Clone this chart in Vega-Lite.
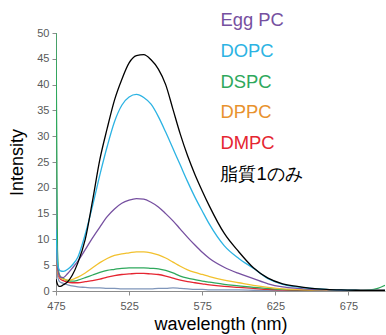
{
  "$schema": "https://vega.github.io/schema/vega-lite/v6.json",
  "width": 329,
  "height": 258,
  "autosize": {"type": "none"},
  "padding": {"left": 56, "top": 33, "right": 1, "bottom": 44},
  "background": "white",
  "config": {
    "view": {"stroke": null},
    "font": "Liberation Sans",
    "axis": {"grid": false, "labelFlush": false, "domainColor": "#8c8c8c", "tickColor": "#8c8c8c", "labelColor": "#595959", "labelFontSize": 11, "tickSize": 4, "titleFontWeight": "normal", "titleColor": "#000000", "titleFontSize": 18}
  },
  "data": {
    "values": [
      {"x": 475, "Egg PC": 12, "DOPC": 12, "DSPC": 50, "DPPC": 12, "DMPC": 12, "脂質1のみ": 2.3, "base": 20},
      {"x": 476, "Egg PC": 4.5, "DOPC": 5.5, "DSPC": 8, "DPPC": 4.0, "DMPC": 4.0, "脂質1のみ": 1.3, "base": 3.0},
      {"x": 477, "Egg PC": 3.2, "DOPC": 4.2, "DSPC": 3.5, "DPPC": 3.0, "DMPC": 2.8, "脂質1のみ": 0.9, "base": 2.0},
      {"x": 478, "Egg PC": 2.7, "DOPC": 3.9, "DSPC": 2.8, "DPPC": 2.6, "DMPC": 2.3, "脂質1のみ": 0.9, "base": 1.7},
      {"x": 480, "Egg PC": 2.6, "DOPC": 3.8, "DSPC": 2.4, "DPPC": 2.3, "DMPC": 2.0, "脂質1のみ": 1.2, "base": 1.5},
      {"x": 483, "Egg PC": 3.4, "DOPC": 4.2, "DSPC": 2.0, "DPPC": 2.1, "DMPC": 1.7, "脂質1のみ": 1.8, "base": 1.2},
      {"x": 486, "Egg PC": 4.4, "DOPC": 5.0, "DSPC": 1.9, "DPPC": 2.2, "DMPC": 1.6, "脂質1のみ": 3.0, "base": 1.0},
      {"x": 490, "Egg PC": 5.8, "DOPC": 6.6, "DSPC": 2.1, "DPPC": 2.7, "DMPC": 1.6, "脂質1のみ": 5.5, "base": 0.8},
      {"x": 495, "Egg PC": 8.0, "DOPC": 11, "DSPC": 2.6, "DPPC": 3.5, "DMPC": 1.8, "脂質1のみ": 10, "base": 0.7},
      {"x": 500, "Egg PC": 10.3, "DOPC": 16.5, "DSPC": 3.1, "DPPC": 4.5, "DMPC": 2.0, "脂質1のみ": 17.5, "base": 0.6},
      {"x": 505, "Egg PC": 12.4, "DOPC": 22.5, "DSPC": 3.6, "DPPC": 5.5, "DMPC": 2.3, "脂質1のみ": 25.5, "base": 0.6},
      {"x": 510, "Egg PC": 14.4, "DOPC": 28, "DSPC": 4.0, "DPPC": 6.3, "DMPC": 2.7, "脂質1のみ": 31.5, "base": 0.5},
      {"x": 515, "Egg PC": 15.9, "DOPC": 32.8, "DSPC": 4.2, "DPPC": 6.9, "DMPC": 3.0, "脂質1のみ": 37, "base": 0.5},
      {"x": 520, "Egg PC": 17.0, "DOPC": 36, "DSPC": 4.4, "DPPC": 7.2, "DMPC": 3.2, "脂質1のみ": 41, "base": 0.4},
      {"x": 525, "Egg PC": 17.6, "DOPC": 37.6, "DSPC": 4.5, "DPPC": 7.4, "DMPC": 3.3, "脂質1のみ": 44.2, "base": 0.4},
      {"x": 530, "Egg PC": 17.9, "DOPC": 38.1, "DSPC": 4.5, "DPPC": 7.6, "DMPC": 3.4, "脂質1のみ": 45.6, "base": 0.4},
      {"x": 535, "Egg PC": 17.8, "DOPC": 37.5, "DSPC": 4.5, "DPPC": 7.6, "DMPC": 3.4, "脂質1のみ": 45.8, "base": 0.4},
      {"x": 540, "Egg PC": 17.2, "DOPC": 36.2, "DSPC": 4.4, "DPPC": 7.4, "DMPC": 3.3, "脂質1のみ": 44.8, "base": 0.4},
      {"x": 545, "Egg PC": 16.3, "DOPC": 33.8, "DSPC": 4.3, "DPPC": 7.0, "DMPC": 3.2, "脂質1のみ": 43, "base": 0.5},
      {"x": 550, "Egg PC": 15.0, "DOPC": 30.8, "DSPC": 4.0, "DPPC": 6.4, "DMPC": 2.9, "脂質1のみ": 40, "base": 0.5},
      {"x": 555, "Egg PC": 13.6, "DOPC": 27.6, "DSPC": 3.5, "DPPC": 5.6, "DMPC": 2.5, "脂質1のみ": 35.2, "base": 0.6},
      {"x": 560, "Egg PC": 12.0, "DOPC": 24.4, "DSPC": 2.9, "DPPC": 4.8, "DMPC": 2.1, "脂質1のみ": 30.4, "base": 0.5},
      {"x": 565, "Egg PC": 10.4, "DOPC": 21.2, "DSPC": 2.5, "DPPC": 4.1, "DMPC": 1.8, "脂質1のみ": 26.2, "base": 0.4},
      {"x": 570, "Egg PC": 8.9, "DOPC": 18.2, "DSPC": 2.2, "DPPC": 3.6, "DMPC": 1.6, "脂質1のみ": 22.6, "base": 0.3},
      {"x": 575, "Egg PC": 7.5, "DOPC": 15.5, "DSPC": 1.9, "DPPC": 3.2, "DMPC": 1.4, "脂質1のみ": 19.4, "base": 0.3},
      {"x": 580, "Egg PC": 6.3, "DOPC": 12.9, "DSPC": 1.7, "DPPC": 2.8, "DMPC": 1.2, "脂質1のみ": 16.4, "base": 0.2},
      {"x": 590, "Egg PC": 4.6, "DOPC": 8.8, "DSPC": 1.3, "DPPC": 2.1, "DMPC": 0.9, "脂質1のみ": 11.2, "base": 0.2},
      {"x": 600, "Egg PC": 3.4, "DOPC": 6.3, "DSPC": 1.0, "DPPC": 1.6, "DMPC": 0.7, "脂質1のみ": 7.6, "base": 0.2},
      {"x": 610, "Egg PC": 2.4, "DOPC": 4.4, "DSPC": 0.7, "DPPC": 1.1, "DMPC": 0.5, "脂質1のみ": 4.5, "base": 0.15},
      {"x": 620, "Egg PC": 1.4, "DOPC": 2.4, "DSPC": 0.5, "DPPC": 0.7, "DMPC": 0.3, "脂質1のみ": 2.5, "base": 0.1},
      {"x": 630, "Egg PC": 0.8, "DOPC": 1.3, "DSPC": 0.3, "DPPC": 0.4, "DMPC": 0.2, "脂質1のみ": 1.4, "base": 0.1},
      {"x": 640, "Egg PC": 0.5, "DOPC": 0.8, "DSPC": 0.2, "DPPC": 0.3, "DMPC": 0.1, "脂質1のみ": 0.9, "base": 0.1},
      {"x": 650, "Egg PC": 0.3, "DOPC": 0.5, "DSPC": 0.2, "DPPC": 0.2, "DMPC": 0.1, "脂質1のみ": 0.5, "base": 0.1},
      {"x": 660, "Egg PC": 0.2, "DOPC": 0.3, "DSPC": 0.15, "DPPC": 0.15, "DMPC": 0.1, "脂質1のみ": 0.3, "base": 0.1},
      {"x": 670, "Egg PC": 0.15, "DOPC": 0.2, "DSPC": 0.1, "DPPC": 0.1, "DMPC": 0.1, "脂質1のみ": 0.2, "base": 0.1},
      {"x": 680, "Egg PC": 0.1, "DOPC": 0.15, "DSPC": 0.1, "DPPC": 0.1, "DMPC": 0.1, "脂質1のみ": 0.15, "base": 0.1},
      {"x": 690, "Egg PC": 0.1, "DOPC": 0.1, "DSPC": 0.2, "DPPC": 0.1, "DMPC": 0.1, "脂質1のみ": 0.1, "base": 0.1},
      {"x": 695, "Egg PC": 0.1, "DOPC": 0.1, "DSPC": 0.5, "DPPC": 0.1, "DMPC": 0.1, "脂質1のみ": 0.1, "base": 0.1},
      {"x": 700, "Egg PC": 0.1, "DOPC": 0.1, "DSPC": 1.1, "DPPC": 0.1, "DMPC": 0.1, "脂質1のみ": 0.1, "base": 0.1}
    ]
  },
  "transform": [
    {"fold": ["base", "DMPC", "DSPC", "DPPC", "Egg PC", "DOPC", "脂質1のみ"], "as": ["series", "value"]}
  ],
  "mark": {"type": "line", "strokeWidth": 1.3, "interpolate": "monotone", "clip": true},
  "encoding": {
    "x": {
      "field": "x", "type": "quantitative",
      "scale": {"domain": [475, 700], "nice": false, "zero": false},
      "axis": {"values": [475, 525, 575, 625, 675], "title": "wavelength  (nm)", "labelPadding": 5, "titlePadding": 4}
    },
    "y": {
      "field": "value", "type": "quantitative",
      "scale": {"domain": [0, 50], "nice": false},
      "axis": {"values": [0, 5, 10, 15, 20, 25, 30, 35, 40, 45, 50], "title": "Intensity", "titlePadding": 10, "labelPadding": 3}
    },
    "color": {
      "field": "series", "type": "nominal",
      "scale": {
        "domain": ["Egg PC", "DOPC", "DSPC", "DPPC", "DMPC", "脂質1のみ", "base"],
        "range": ["#7650a0", "#2cb3e3", "#2ea85c", "#f2c12e", "#e52531", "#000000", "#8096ba"]
      },
      "legend": {
        "values": ["Egg PC", "DOPC", "DSPC", "DPPC", "DMPC", "脂質1のみ"],
        "title": null,
        "orient": "none",
        "legendX": 146,
        "legendY": -22,
        "symbolSize": 0,
        "symbolOpacity": 0,
        "symbolStrokeWidth": 0,
        "labelOffset": 0,
        "labelFontSize": 18.4,
        "rowPadding": 11.7,
        "labelLimit": 300,
        "encode": {
          "labels": {
            "update": {
              "fill": {"signal": "datum.value === 'Egg PC' ? '#7650a0' : datum.value === 'DOPC' ? '#2cb3e3' : datum.value === 'DSPC' ? '#2ea85c' : datum.value === 'DPPC' ? '#e8922e' : datum.value === 'DMPC' ? '#e52531' : '#000000'"}
            }
          }
        }
      }
    }
  }
}
